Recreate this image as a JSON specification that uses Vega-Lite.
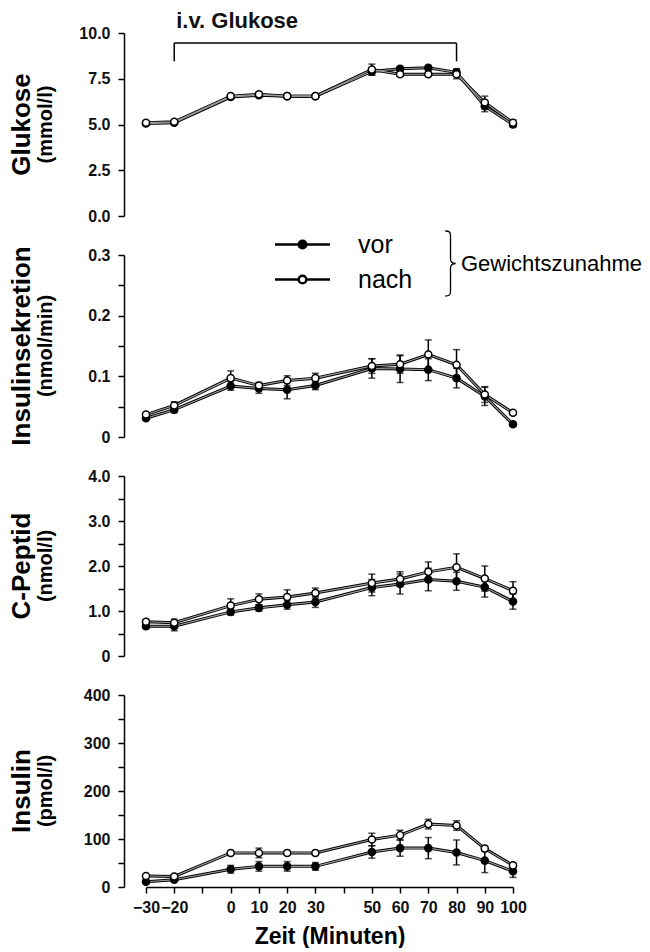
{
  "$schema": "https://vega.github.io/schema/vega-lite/v6.json",
  "background": "white",
  "padding": {"left": 8, "top": 10, "right": 0, "bottom": 0},
  "bounds": "flush",
  "spacing": 39,
  "config": {
    "view": {"stroke": null},
    "font": "Liberation Sans",
    "axis": {
      "grid": false, "domainColor": "black", "domainWidth": 1.5, "tickColor": "black", "tickWidth": 1.5, "tickSize": 6,
      "labelColor": "#111", "labelFont": "Liberation Sans", "labelFontWeight": "bold", "labelFontSize": 16, "labelPadding": 6,
      "labelFlush": false, "labelOverlap": false, "titleFont": "Liberation Sans", "titleColor": "black"
    },
    "axisY": {"labelPadding": 8, "minExtent": 48},
    "title": {
      "orient": "left", "anchor": "middle", "frame": "group", "font": "Liberation Sans", "fontSize": 26, "fontWeight": "bold", "color": "black",
      "subtitleFont": "Liberation Sans", "subtitleFontSize": 20, "subtitleFontWeight": "bold", "subtitleColor": "black", "subtitlePadding": 1, "offset": 20
    }
  },
  "datasets": {
    "infusion": [{"start": -20, "end": 80, "label": "i.v. Glukose"}],
    "glukose": [
      {"t": -30, "g": "vor", "v": 5.05, "e": 0.1}, {"t": -20, "g": "vor", "v": 5.1, "e": 0.08}, {"t": 0, "g": "vor", "v": 6.5, "e": 0.1}, {"t": 10, "g": "vor", "v": 6.6, "e": 0.12}, {"t": 20, "g": "vor", "v": 6.55, "e": 0.1}, {"t": 30, "g": "vor", "v": 6.55, "e": 0.08}, {"t": 50, "g": "vor", "v": 7.9, "e": 0.2}, {"t": 60, "g": "vor", "v": 8.05, "e": 0.12}, {"t": 70, "g": "vor", "v": 8.1, "e": 0.12}, {"t": 80, "g": "vor", "v": 7.85, "e": 0.2}, {"t": 90, "g": "vor", "v": 6.0, "e": 0.3}, {"t": 100, "g": "vor", "v": 5.0, "e": 0.15},
      {"t": -30, "g": "nach", "v": 5.1, "e": 0.08}, {"t": -20, "g": "nach", "v": 5.15, "e": 0.08}, {"t": 0, "g": "nach", "v": 6.55, "e": 0.1}, {"t": 10, "g": "nach", "v": 6.65, "e": 0.12}, {"t": 20, "g": "nach", "v": 6.55, "e": 0.1}, {"t": 30, "g": "nach", "v": 6.55, "e": 0.08}, {"t": 50, "g": "nach", "v": 8.0, "e": 0.3}, {"t": 60, "g": "nach", "v": 7.75, "e": 0.12}, {"t": 70, "g": "nach", "v": 7.75, "e": 0.12}, {"t": 80, "g": "nach", "v": 7.75, "e": 0.25}, {"t": 90, "g": "nach", "v": 6.2, "e": 0.35}, {"t": 100, "g": "nach", "v": 5.1, "e": 0.15}
    ],
    "sekretion": [
      {"t": -30, "g": "vor", "v": 0.031, "e": 0.003}, {"t": -20, "g": "vor", "v": 0.045, "e": 0.005}, {"t": 0, "g": "vor", "v": 0.084, "e": 0.007}, {"t": 10, "g": "vor", "v": 0.08, "e": 0.008}, {"t": 20, "g": "vor", "v": 0.078, "e": 0.015}, {"t": 30, "g": "vor", "v": 0.085, "e": 0.007}, {"t": 50, "g": "vor", "v": 0.113, "e": 0.016}, {"t": 60, "g": "vor", "v": 0.112, "e": 0.022}, {"t": 70, "g": "vor", "v": 0.111, "e": 0.018}, {"t": 80, "g": "vor", "v": 0.097, "e": 0.016}, {"t": 90, "g": "vor", "v": 0.067, "e": 0.015}, {"t": 100, "g": "vor", "v": 0.021, "e": 0.003},
      {"t": -30, "g": "nach", "v": 0.037, "e": 0.003}, {"t": -20, "g": "nach", "v": 0.052, "e": 0.006}, {"t": 0, "g": "nach", "v": 0.097, "e": 0.012}, {"t": 10, "g": "nach", "v": 0.085, "e": 0.005}, {"t": 20, "g": "nach", "v": 0.093, "e": 0.008}, {"t": 30, "g": "nach", "v": 0.097, "e": 0.008}, {"t": 50, "g": "nach", "v": 0.117, "e": 0.012}, {"t": 60, "g": "nach", "v": 0.12, "e": 0.015}, {"t": 70, "g": "nach", "v": 0.136, "e": 0.024}, {"t": 80, "g": "nach", "v": 0.119, "e": 0.025}, {"t": 90, "g": "nach", "v": 0.07, "e": 0.013}, {"t": 100, "g": "nach", "v": 0.04, "e": 0.003}
    ],
    "cpeptid": [
      {"t": -30, "g": "vor", "v": 0.66, "e": 0.05}, {"t": -20, "g": "vor", "v": 0.66, "e": 0.1}, {"t": 0, "g": "vor", "v": 0.98, "e": 0.07}, {"t": 10, "g": "vor", "v": 1.07, "e": 0.07}, {"t": 20, "g": "vor", "v": 1.14, "e": 0.1}, {"t": 30, "g": "vor", "v": 1.2, "e": 0.12}, {"t": 50, "g": "vor", "v": 1.52, "e": 0.18}, {"t": 60, "g": "vor", "v": 1.6, "e": 0.22}, {"t": 70, "g": "vor", "v": 1.7, "e": 0.25}, {"t": 80, "g": "vor", "v": 1.66, "e": 0.2}, {"t": 90, "g": "vor", "v": 1.53, "e": 0.22}, {"t": 100, "g": "vor", "v": 1.21, "e": 0.17},
      {"t": -30, "g": "nach", "v": 0.76, "e": 0.05}, {"t": -20, "g": "nach", "v": 0.74, "e": 0.08}, {"t": 0, "g": "nach", "v": 1.12, "e": 0.15}, {"t": 10, "g": "nach", "v": 1.26, "e": 0.12}, {"t": 20, "g": "nach", "v": 1.31, "e": 0.16}, {"t": 30, "g": "nach", "v": 1.4, "e": 0.11}, {"t": 50, "g": "nach", "v": 1.62, "e": 0.2}, {"t": 60, "g": "nach", "v": 1.71, "e": 0.16}, {"t": 70, "g": "nach", "v": 1.87, "e": 0.22}, {"t": 80, "g": "nach", "v": 1.97, "e": 0.3}, {"t": 90, "g": "nach", "v": 1.72, "e": 0.28}, {"t": 100, "g": "nach", "v": 1.45, "e": 0.2}
    ],
    "insulin": [
      {"t": -30, "g": "vor", "v": 11, "e": 4}, {"t": -20, "g": "vor", "v": 15, "e": 4}, {"t": 0, "g": "vor", "v": 37, "e": 8}, {"t": 10, "g": "vor", "v": 43, "e": 10}, {"t": 20, "g": "vor", "v": 43, "e": 10}, {"t": 30, "g": "vor", "v": 43, "e": 8}, {"t": 50, "g": "vor", "v": 73, "e": 13}, {"t": 60, "g": "vor", "v": 81, "e": 17}, {"t": 70, "g": "vor", "v": 81, "e": 22}, {"t": 80, "g": "vor", "v": 72, "e": 26}, {"t": 90, "g": "vor", "v": 55, "e": 25}, {"t": 100, "g": "vor", "v": 33, "e": 13},
      {"t": -30, "g": "nach", "v": 23, "e": 3}, {"t": -20, "g": "nach", "v": 22, "e": 3}, {"t": 0, "g": "nach", "v": 71, "e": 5}, {"t": 10, "g": "nach", "v": 71, "e": 10}, {"t": 20, "g": "nach", "v": 71, "e": 5}, {"t": 30, "g": "nach", "v": 71, "e": 5}, {"t": 50, "g": "nach", "v": 99, "e": 13}, {"t": 60, "g": "nach", "v": 108, "e": 10}, {"t": 70, "g": "nach", "v": 131, "e": 10}, {"t": 80, "g": "nach", "v": 128, "e": 10}, {"t": 90, "g": "nach", "v": 80, "e": 5}, {"t": 100, "g": "nach", "v": 45, "e": 5}
    ]
  },
  "resolve": {"scale": {"fill": "independent", "shape": "independent"}, "legend": {"fill": "independent", "shape": "independent"}},
  "vconcat": [
    {
      "width": 367, "height": 183,
      "title": {"text": "Glukose", "subtitle": "(mmol/l)"},
      "layer": [
        {"data": {"name": "infusion"}, "mark": {"type": "rule", "color": "black", "strokeWidth": 1.5},
         "encoding": {"x": {"field": "start", "type": "quantitative", "scale": {"domain": [-30, 100], "nice": false, "zero": false}, "axis": null}, "x2": {"field": "end"},
                      "y": {"datum": 9.45, "type": "quantitative", "scale": {"domain": [0, 10], "nice": false}, "axis": {"values": [0, 2.5, 5, 7.5, 10], "format": ".1f", "offset": 22, "title": null}}}},
        {"data": {"name": "infusion"}, "mark": {"type": "rule", "color": "black", "strokeWidth": 1.5},
         "encoding": {"x": {"field": "start", "type": "quantitative", "scale": {"domain": [-30, 100], "nice": false, "zero": false}, "axis": null},
                      "y": {"datum": 8.45, "type": "quantitative", "scale": {"domain": [0, 10], "nice": false}}, "y2": {"datum": 9.45}}},
        {"data": {"name": "infusion"}, "mark": {"type": "rule", "color": "black", "strokeWidth": 1.5},
         "encoding": {"x": {"field": "end", "type": "quantitative", "scale": {"domain": [-30, 100], "nice": false, "zero": false}, "axis": null},
                      "y": {"datum": 8.45, "type": "quantitative", "scale": {"domain": [0, 10], "nice": false}}, "y2": {"datum": 9.45}}},
        {"data": {"name": "infusion"}, "mark": {"type": "text", "align": "left", "baseline": "middle", "dx": 2, "fontSize": 22, "fontWeight": "bold", "color": "#111"},
         "encoding": {"x": {"field": "start", "type": "quantitative", "scale": {"domain": [-30, 100], "nice": false, "zero": false}, "axis": null},
                      "y": {"datum": 10.65, "type": "quantitative", "scale": {"domain": [0, 10], "nice": false}}, "text": {"field": "label"}}},
        {"data": {"name": "glukose"}, "mark": {"type": "line", "stroke": "black", "strokeWidth": 3},
         "encoding": {"x": {"field": "t", "type": "quantitative", "scale": {"domain": [-30, 100], "nice": false, "zero": false}, "axis": null},
                      "y": {"field": "v", "type": "quantitative", "scale": {"domain": [0, 10], "nice": false}}, "detail": {"field": "g"}}},
        {"data": {"name": "glukose"}, "mark": {"type": "line", "stroke": "#a0a0a0", "strokeWidth": 1.1},
         "encoding": {"x": {"field": "t", "type": "quantitative", "scale": {"domain": [-30, 100], "nice": false, "zero": false}, "axis": null},
                      "y": {"field": "v", "type": "quantitative", "scale": {"domain": [0, 10], "nice": false}}, "detail": {"field": "g"}}},
        {"data": {"name": "glukose"}, "mark": {"type": "errorbar", "ticks": {"size": 7, "thickness": 1.5, "color": "black"}, "rule": {"strokeWidth": 1.5, "color": "black"}},
         "encoding": {"x": {"field": "t", "type": "quantitative", "scale": {"domain": [-30, 100], "nice": false, "zero": false}, "axis": null},
                      "y": {"field": "v", "type": "quantitative", "scale": {"domain": [0, 10], "nice": false}}, "yError": {"field": "e"}, "detail": {"field": "g"}}},
        {"data": {"name": "glukose"}, "mark": {"type": "point", "shape": "circle", "size": 50, "filled": true, "stroke": "black", "strokeWidth": 1.5, "opacity": 1},
         "encoding": {"x": {"field": "t", "type": "quantitative", "scale": {"domain": [-30, 100], "nice": false, "zero": false}, "axis": null},
                      "y": {"field": "v", "type": "quantitative", "scale": {"domain": [0, 10], "nice": false}},
                      "fill": {"field": "g", "type": "nominal", "scale": {"domain": ["vor", "nach"], "range": ["black", "white"]}, "legend": null}}}
      ]
    },
    {
      "width": 367, "height": 182,
      "title": {"text": "Insulinsekretion", "subtitle": "(nmol/min)"},
      "data": {"name": "sekretion"},
      "encoding": {
        "x": {"field": "t", "type": "quantitative", "scale": {"domain": [-30, 100], "nice": false, "zero": false}, "axis": null},
        "y": {"field": "v", "type": "quantitative", "scale": {"domain": [0, 0.3], "nice": false},
              "axis": {"values": [0, 0.05, 0.1, 0.15, 0.2, 0.25, 0.3], "labelExpr": "datum.value == 0 ? '0' : (round(datum.value * 100) % 10 == 0 ? format(datum.value, '.1f') : '')", "offset": 22, "title": null}}
      },
      "layer": [
        {"mark": {"type": "line", "stroke": "black", "strokeWidth": 3}, "encoding": {"detail": {"field": "g"}}},
        {"mark": {"type": "line", "stroke": "#a0a0a0", "strokeWidth": 1.1}, "encoding": {"detail": {"field": "g"}}},
        {"mark": {"type": "errorbar", "ticks": {"size": 7, "thickness": 1.5, "color": "black"}, "rule": {"strokeWidth": 1.5, "color": "black"}},
         "encoding": {"yError": {"field": "e"}, "detail": {"field": "g"}}},
        {"mark": {"type": "point", "shape": "circle", "size": 50, "filled": true, "stroke": "black", "strokeWidth": 1.5, "opacity": 1},
         "encoding": {"fill": {"field": "g", "type": "nominal", "scale": {"domain": ["vor", "nach"], "range": ["black", "white"]},
           "legend": {"orient": "none", "legendX": 144, "legendY": -23, "title": null, "padding": 0,
                      "symbolType": "M-2.75,0H-0.385M0.385,0H2.75M-0.385,0A0.385,0.385,0,1,0,0.385,0A0.385,0.385,0,1,0,-0.385,0Z",
                      "symbolSize": 400, "symbolStrokeColor": "black", "symbolStrokeWidth": 2.5,
                      "labelFont": "Liberation Sans", "labelFontSize": 25, "labelColor": "black", "labelOffset": 43, "rowPadding": 9}}}},
        {"transform": [{"filter": "false"}],
         "mark": {"type": "point", "filled": false, "color": "black", "opacity": 1, "strokeWidth": 1.3},
         "encoding": {"shape": {"datum": "Gewichtszunahme",
           "scale": {"range": ["M-0.16,-1C-0.03,-1,0,-0.96,0,-0.86L0,-0.14C0,-0.05,0.05,0,0.16,0C0.05,0,0,0.05,0,0.14L0,0.86C0,0.96,-0.03,1,-0.16,1"]},
           "legend": {"orient": "none", "legendX": 271, "legendY": -25, "title": null, "padding": 0, "symbolSize": 4225,
                      "symbolStrokeColor": "black", "symbolStrokeWidth": 1.3, "symbolFillColor": "transparent",
                      "labelFont": "Liberation Sans", "labelFontSize": 22, "labelColor": "black", "labelOffset": -23, "labelLimit": 0}}}}
      ]
    },
    {
      "width": 367, "height": 180,
      "title": {"text": "C-Peptid", "subtitle": "(nmol/l)"},
      "data": {"name": "cpeptid"},
      "encoding": {
        "x": {"field": "t", "type": "quantitative", "scale": {"domain": [-30, 100], "nice": false, "zero": false}, "axis": null},
        "y": {"field": "v", "type": "quantitative", "scale": {"domain": [0, 4], "nice": false},
              "axis": {"values": [0, 0.5, 1, 1.5, 2, 2.5, 3, 3.5, 4], "labelExpr": "datum.value == 0 ? '0' : (datum.value % 1 == 0 ? format(datum.value, '.1f') : '')", "offset": 22, "title": null}}
      },
      "layer": [
        {"mark": {"type": "line", "stroke": "black", "strokeWidth": 3}, "encoding": {"detail": {"field": "g"}}},
        {"mark": {"type": "line", "stroke": "#a0a0a0", "strokeWidth": 1.1}, "encoding": {"detail": {"field": "g"}}},
        {"mark": {"type": "errorbar", "ticks": {"size": 7, "thickness": 1.5, "color": "black"}, "rule": {"strokeWidth": 1.5, "color": "black"}},
         "encoding": {"yError": {"field": "e"}, "detail": {"field": "g"}}},
        {"mark": {"type": "point", "shape": "circle", "size": 50, "filled": true, "stroke": "black", "strokeWidth": 1.5, "opacity": 1},
         "encoding": {"fill": {"field": "g", "type": "nominal", "scale": {"domain": ["vor", "nach"], "range": ["black", "white"]}, "legend": null}}}
      ]
    },
    {
      "width": 367, "height": 192,
      "title": {"text": "Insulin", "subtitle": "(pmol/l)"},
      "data": {"name": "insulin"},
      "encoding": {
        "x": {"field": "t", "type": "quantitative", "scale": {"domain": [-30, 100], "nice": false, "zero": false},
              "axis": {"values": [-30, -20, -10, 0, 10, 20, 30, 40, 50, 60, 70, 80, 90, 100], "labelExpr": "datum.value == -10 || datum.value == 40 ? '' : datum.label",
                       "title": "Zeit (Minuten)", "titleFontSize": 23, "titleFontWeight": "bold", "titlePadding": 10}},
        "y": {"field": "v", "type": "quantitative", "scale": {"domain": [0, 400], "nice": false},
              "axis": {"values": [0, 50, 100, 150, 200, 250, 300, 350, 400], "labelExpr": "datum.value % 100 == 0 ? datum.label : ''", "offset": 22, "title": null}}
      },
      "layer": [
        {"mark": {"type": "line", "stroke": "black", "strokeWidth": 3}, "encoding": {"detail": {"field": "g"}}},
        {"mark": {"type": "line", "stroke": "#a0a0a0", "strokeWidth": 1.1}, "encoding": {"detail": {"field": "g"}}},
        {"mark": {"type": "errorbar", "ticks": {"size": 7, "thickness": 1.5, "color": "black"}, "rule": {"strokeWidth": 1.5, "color": "black"}},
         "encoding": {"yError": {"field": "e"}, "detail": {"field": "g"}}},
        {"mark": {"type": "point", "shape": "circle", "size": 50, "filled": true, "stroke": "black", "strokeWidth": 1.5, "opacity": 1},
         "encoding": {"fill": {"field": "g", "type": "nominal", "scale": {"domain": ["vor", "nach"], "range": ["black", "white"]}, "legend": null}}}
      ]
    }
  ]
}
